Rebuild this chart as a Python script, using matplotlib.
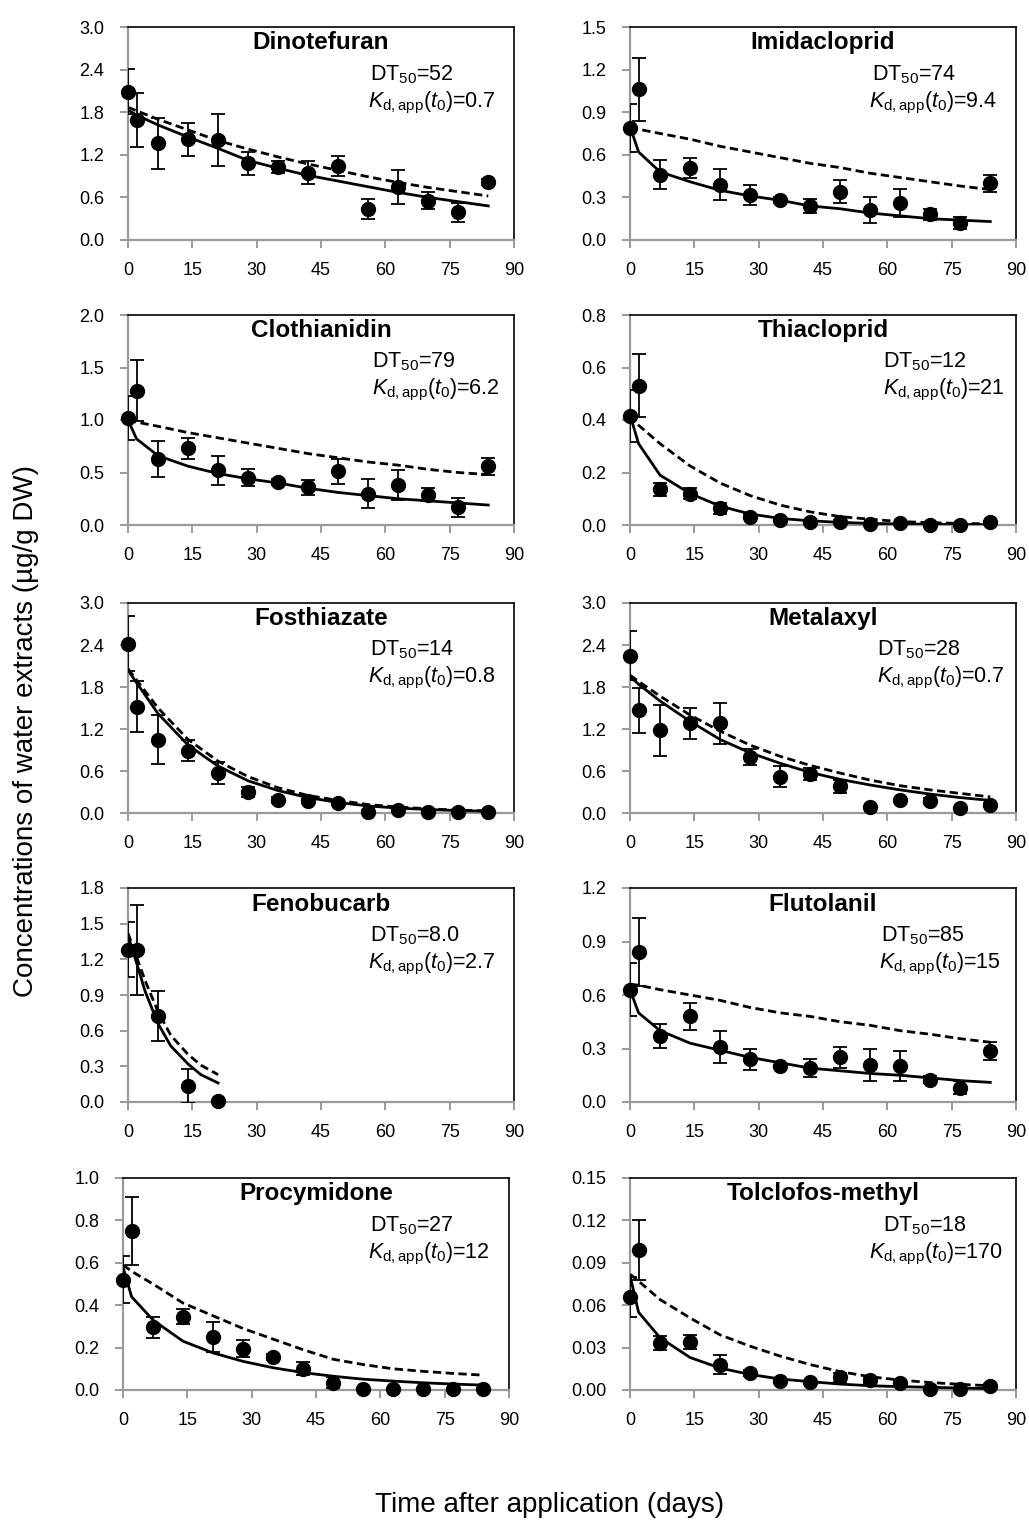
import numpy as np
import matplotlib
matplotlib.use("Agg")
import matplotlib.pyplot as plt

plt.rcParams['font.family'] = ['Liberation Sans', 'DejaVu Sans']
plt.rcParams['mathtext.fontset'] = 'custom'
plt.rcParams['mathtext.rm'] = 'Liberation Sans'
plt.rcParams['mathtext.it'] = 'Liberation Sans:italic'

# sampling days
days = [0, 2, 7, 14, 21, 28, 35, 42, 49, 56, 63, 70, 77, 84]
days_feno = [0, 2, 7, 14, 21]
days_feno_fit = [0, 2, 4, 7, 10, 14, 17, 21]

names = ["Dinotefuran", "Imidacloprid", "Clothianidin", "Thiacloprid", "Fosthiazate",
         "Metalaxyl", "Fenobucarb", "Flutolanil", "Procymidone", "Tolclofos-methyl"]
dt50 = ["52", "74", "79", "12", "14", "28", "8.0", "85", "27", "18"]
kd = ["0.7", "9.4", "6.2", "21", "0.8", "0.7", "2.7", "15", "12", "170"]
ymax = [3.0, 1.5, 2.0, 0.8, 3.0, 3.0, 1.8, 1.2, 1.0, 0.15]
ystep = [0.6, 0.3, 0.5, 0.2, 0.6, 0.6, 0.3, 0.3, 0.2, 0.03]

# observed means / errors
dino_obs = [2.09, 1.69, 1.36, 1.42, 1.41, 1.08, 1.03, 0.95, 1.04, 0.44, 0.75, 0.55, 0.39, 0.82]
dino_err = [0.32, 0.38, 0.36, 0.23, 0.37, 0.16, 0.08, 0.16, 0.14, 0.14, 0.24, 0.12, 0.13, 0.04]
dino_fit = [1.83, 1.76, 1.62, 1.45, 1.29, 1.12, 1.01, 0.91, 0.83, 0.75, 0.67, 0.60, 0.54, 0.48]
dino_ref = [1.87, 1.82, 1.70, 1.55, 1.40, 1.28, 1.17, 1.07, 0.98, 0.89, 0.81, 0.74, 0.68, 0.62]

imid_obs = [0.79, 1.06, 0.46, 0.51, 0.39, 0.32, 0.28, 0.24, 0.34, 0.21, 0.26, 0.18, 0.12, 0.40]
imid_err = [0.17, 0.22, 0.10, 0.07, 0.11, 0.07, 0.02, 0.05, 0.08, 0.09, 0.10, 0.04, 0.04, 0.06]
imid_fit = [0.80, 0.62, 0.48, 0.41, 0.35, 0.31, 0.28, 0.24, 0.22, 0.19, 0.17, 0.15, 0.14, 0.13]
imid_ref = [0.80, 0.78, 0.75, 0.71, 0.66, 0.62, 0.58, 0.54, 0.51, 0.47, 0.44, 0.41, 0.38, 0.355]

clot_obs = [1.02, 1.28, 0.63, 0.73, 0.52, 0.45, 0.41, 0.36, 0.51, 0.30, 0.38, 0.29, 0.17, 0.56]
clot_err = [0.21, 0.29, 0.17, 0.10, 0.14, 0.08, 0.03, 0.07, 0.12, 0.14, 0.14, 0.06, 0.09, 0.08]
clot_fit = [1.00, 0.82, 0.66, 0.56, 0.49, 0.44, 0.40, 0.35, 0.31, 0.28, 0.25, 0.23, 0.21, 0.19]
clot_ref = [1.00, 0.98, 0.94, 0.88, 0.83, 0.78, 0.73, 0.68, 0.64, 0.60, 0.57, 0.53, 0.50, 0.48]

thia_obs = [0.415, 0.53, 0.136, 0.12, 0.063, 0.032, 0.02, 0.01, 0.013, 0.004, 0.006, 0.0, 0.0, 0.013]
thia_err = [0.10, 0.12, 0.025, 0.02, 0.02, 0.01, 0.005, 0.005, 0.005, 0.003, 0.003, 0.002, 0.002, 0.004]
thia_fit = [0.42, 0.31, 0.19, 0.12, 0.072, 0.042, 0.025, 0.016, 0.01, 0.006, 0.004, 0.003, 0.002, 0.001]
thia_ref = [0.42, 0.38, 0.31, 0.225, 0.16, 0.112, 0.076, 0.05, 0.032, 0.022, 0.013, 0.009, 0.006, 0.004]

fost_obs = [2.42, 1.52, 1.05, 0.89, 0.57, 0.30, 0.19, 0.17, 0.15, 0.02, 0.05, 0.015, 0.015, 0.015]
fost_err = [0.39, 0.36, 0.35, 0.15, 0.16, 0.07, 0.04, 0.03, 0.02, 0.02, 0.01, 0.01, 0.01, 0.01]
fost_fit = [2.04, 1.86, 1.42, 0.97, 0.67, 0.46, 0.32, 0.22, 0.15, 0.10, 0.07, 0.05, 0.035, 0.025]
fost_ref = [2.06, 1.90, 1.50, 1.05, 0.74, 0.52, 0.36, 0.25, 0.18, 0.12, 0.085, 0.06, 0.04, 0.03]

meta_obs = [2.25, 1.47, 1.18, 1.28, 1.28, 0.80, 0.52, 0.56, 0.38, 0.085, 0.18, 0.17, 0.07, 0.11]
meta_err = [0.35, 0.32, 0.37, 0.22, 0.29, 0.11, 0.15, 0.09, 0.09, 0.01, 0.02, 0.04, 0.01, 0.03]
meta_fit = [1.95, 1.84, 1.60, 1.31, 1.05, 0.86, 0.71, 0.58, 0.48, 0.40, 0.33, 0.27, 0.22, 0.18]
meta_ref = [1.97, 1.88, 1.67, 1.40, 1.17, 0.97, 0.81, 0.68, 0.57, 0.47, 0.39, 0.33, 0.28, 0.23]

feno_obs = [1.28, 1.28, 0.72, 0.135, 0.01]
feno_err = [0.23, 0.38, 0.21, 0.14, 0.0]
feno_fit = [1.40, 1.17, 0.93, 0.66, 0.47, 0.32, 0.23, 0.16]
feno_ref = [1.42, 1.22, 1.02, 0.76, 0.56, 0.40, 0.31, 0.23]

fluto_obs = [0.63, 0.84, 0.37, 0.48, 0.31, 0.24, 0.20, 0.19, 0.25, 0.21, 0.20, 0.125, 0.08, 0.285]
fluto_err = [0.15, 0.19, 0.065, 0.075, 0.09, 0.06, 0.01, 0.05, 0.06, 0.09, 0.085, 0.02, 0.035, 0.05]
fluto_fit = [0.63, 0.50, 0.40, 0.33, 0.29, 0.25, 0.22, 0.19, 0.175, 0.16, 0.15, 0.135, 0.12, 0.11]
fluto_ref = [0.66, 0.655, 0.63, 0.60, 0.57, 0.53, 0.50, 0.48, 0.45, 0.43, 0.40, 0.38, 0.355, 0.335]

proc_obs = [0.52, 0.75, 0.295, 0.345, 0.25, 0.195, 0.155, 0.10, 0.035, 0.005, 0.005, 0.005, 0.005, 0.005]
proc_err = [0.11, 0.16, 0.05, 0.035, 0.07, 0.04, 0.015, 0.03, 0.025, 0.003, 0.003, 0.003, 0.003, 0.003]
proc_fit = [0.58, 0.44, 0.33, 0.23, 0.175, 0.135, 0.105, 0.082, 0.065, 0.051, 0.042, 0.034, 0.028, 0.023]
proc_ref = [0.59, 0.56, 0.50, 0.41, 0.35, 0.29, 0.24, 0.19, 0.145, 0.12, 0.10, 0.088, 0.078, 0.07]

tolc_obs = [0.066, 0.099, 0.033, 0.034, 0.018, 0.012, 0.0066, 0.0054, 0.009, 0.007, 0.0047, 0.001, 0.001, 0.003]
tolc_err = [0.014, 0.021, 0.005, 0.005, 0.007, 0.002, 0.001, 0.001, 0.003, 0.002, 0.001, 0.0005, 0.0005, 0.001]
tolc_fit = [0.081, 0.055, 0.037, 0.023, 0.0155, 0.011, 0.0078, 0.0059, 0.0042, 0.003, 0.0024, 0.0019, 0.0014, 0.001]
tolc_ref = [0.082, 0.077, 0.064, 0.051, 0.039, 0.031, 0.024, 0.018, 0.013, 0.0094, 0.007, 0.0053, 0.004, 0.003]

obs = [dino_obs, imid_obs, clot_obs, thia_obs, fost_obs, meta_obs, feno_obs, fluto_obs, proc_obs, tolc_obs]
errs = [dino_err, imid_err, clot_err, thia_err, fost_err, meta_err, feno_err, fluto_err, proc_err, tolc_err]
fits = [dino_fit, imid_fit, clot_fit, thia_fit, fost_fit, meta_fit, feno_fit, fluto_fit, proc_fit, tolc_fit]
refs = [dino_ref, imid_ref, clot_ref, thia_ref, fost_ref, meta_ref, feno_ref, fluto_ref, proc_ref, tolc_ref]

# left edge (in days) of the DT50 / Kd annotation lines
dt_x = [56.5, 56.5, 57, 59, 56.5, 57.5, 56.5, 58.5, 57.5, 59]
kd_x = [56, 55.8, 56.8, 59, 56, 57.5, 56, 58, 57.2, 55.8]

W, H = 1029, 1520
fig = plt.figure(figsize=(W / 100, H / 100), dpi=100)

col_left = [128, 630]
col_right = [514, 1016]
row_top = [27, 315, 603, 888, 1178]
row_bot = [240, 525, 813, 1102, 1390]

grey = '#9a9a9a'

for i, name in enumerate(names):
    r, c = divmod(i, 2)
    l = col_left[c] - (5 if i == 8 else 0)
    rr = col_right[c] - (5 if i == 8 else 0)
    ax = fig.add_axes([l / W, 1 - row_bot[r] / H, (rr - l) / W, (row_bot[r] - row_top[r]) / H])

    if name == "Fenobucarb":
        t_obs, t_fit = days_feno, days_feno_fit
    else:
        t_obs, t_fit = days, days

    ax.plot(t_fit, refs[i], color='black', lw=2.0, ls=(0, (3, 1.6)), zorder=2)
    ax.plot(t_fit, fits[i], color='black', lw=2.0, zorder=3)
    ax.errorbar(t_obs, obs[i], yerr=errs[i], fmt='none', ecolor='black',
                elinewidth=1.3, capsize=5, capthick=1.3, zorder=4)
    ax.plot(t_obs, obs[i], 'o', color='black', ms=10, clip_on=False, zorder=5)

    ax.set_xlim(0, 90)
    ax.set_ylim(0, ymax[i])
    ax.set_xticks(np.arange(0, 91, 15))
    yt = np.arange(0, ymax[i] + ystep[i] / 2, ystep[i])
    ax.set_yticks(yt)
    fmt = '{:.2f}' if ystep[i] < 0.1 else '{:.1f}'
    ax.set_yticklabels([fmt.format(v) for v in yt])

    for s in ['left', 'bottom']:
        ax.spines[s].set_color(grey)
        ax.spines[s].set_linewidth(1.6)
    for s in ['top', 'right']:
        ax.spines[s].set_color('black')
        ax.spines[s].set_linewidth(1.2)
    ax.tick_params(direction='out', length=6, width=1.4, color=grey, labelsize=13)
    ax.tick_params(axis='y', pad=11)
    ax.tick_params(axis='x', pad=10)

    ax.text(0.5, 0.925, name, transform=ax.transAxes, ha='center', va='center',
            fontsize=17.5, fontweight='bold')
    ax.text(dt_x[i], ymax[i] * 0.75, 'DT$_{50}$=' + dt50[i], ha='left', va='baseline',
            fontsize=15.5)
    ax.text(kd_x[i], ymax[i] * 0.622, r'$K_{\rm d,app}(t_0)$=' + kd[i], ha='left',
            va='baseline', fontsize=15.5)

fig.text(26 / W, 1 - 731 / H, 'Concentrations of water extracts (\u00b5g/g DW)',
         rotation=90, ha='center', va='center', fontsize=20)
fig.text(550 / W, 1 - 1505 / H, 'Time after application (days)',
         ha='center', va='center', fontsize=20)

fig.savefig('out.png', dpi=100, facecolor='white')
